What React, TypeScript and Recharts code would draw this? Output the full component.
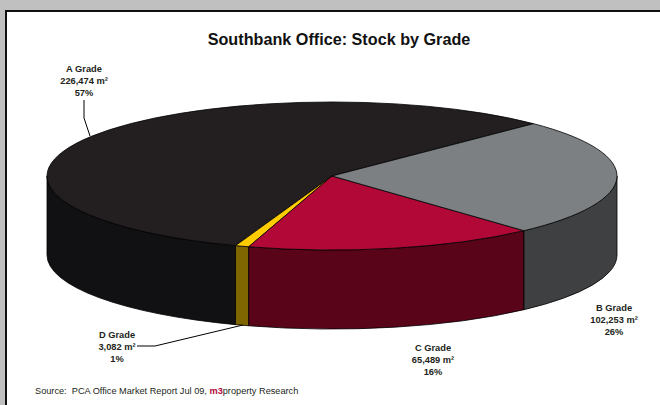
import { Pie, PieChart } from 'recharts';

const grades = ['A Grade', 'D Grade', 'C Grade', 'B Grade'];
const areas = [226474, 3082, 65489, 102253];

const topColors = ['#231f20', '#ffcc00', '#b20838', '#7c8083'];
const wallColors = ['#111012', '#7f6600', '#590419', '#3e4042'];

const data = grades.map((grade, i) => ({ grade, area: areas[i] }));

// the pie is tilted: top face is squashed to an ellipse, with a wall below it
const CX = 332;
const CY = 176;
const RX = 285;
const RY = 74;
const DEPTH = 79;
const FONT = '"Liberation Sans", Arial, sans-serif';

const labelPlaces: Record<string, { x: number; y: number; leader?: string }> = {
  'A Grade': { x: 84, y: 72, leader: '84,100 84,118 90,136' },
  'B Grade': { x: 614, y: 311 },
  'C Grade': { x: 433, y: 351 },
  'D Grade': { x: 117, y: 338, leader: '137,346 155,346 243,325' },
};

const point = (deg: number, dy = 0) => {
  const a = (deg * Math.PI) / 180;
  return `${CX + RX * Math.cos(a)} ${CY - RY * Math.sin(a) + dy}`;
};

function TiltedSector(props: any) {
  const { startAngle, endAngle, name } = props;
  const i = grades.indexOf(name);
  const large = endAngle - startAngle > 180 ? 1 : 0;
  const top = `M${CX} ${CY} L${point(startAngle)} A${RX} ${RY} 0 ${large} 0 ${point(endAngle)} Z`;

  // only the front half of the rim has a visible wall
  const from = Math.max(startAngle, 180);
  const to = Math.min(endAngle, 360);
  const wall =
    to > from
      ? `M${point(from)} A${RX} ${RY} 0 0 0 ${point(to)} L${point(to, DEPTH)} A${RX} ${RY} 0 0 1 ${point(from, DEPTH)} Z`
      : null;

  return (
    <g>
      {wall && <path d={wall} fill={wallColors[i]} stroke="#000" strokeWidth={0.8} strokeLinejoin="round" />}
      <path d={top} fill={topColors[i]} stroke="#000" strokeWidth={0.8} strokeLinejoin="round" />
    </g>
  );
}

function GradeLabel(props: any) {
  const { name, value, percent } = props;
  const place = labelPlaces[name];
  const lines = [name, `${value.toLocaleString('en-US')} m²`, `${Math.round(percent * 100)}%`];
  return (
    <g>
      {place.leader && <polyline points={place.leader} fill="none" stroke="#000" strokeWidth={1} />}
      {lines.map((line, n) => (
        <text
          key={line}
          x={place.x}
          y={place.y + n * 12}
          textAnchor="middle"
          fontFamily={FONT}
          fontSize={9.3}
          fontWeight="bold"
          fill="#231f20"
        >
          {line}
        </text>
      ))}
    </g>
  );
}

export default function App() {
  return (
    <div style={{ position: 'absolute', left: 0, top: 0, width: 660, height: 405, overflow: 'hidden', background: '#c0c0c0' }}>
      <div
        style={{
          position: 'absolute',
          left: 5,
          top: 10,
          width: 660,
          height: 400,
          background: '#fff',
          borderLeft: '2px solid #111',
          borderTop: '2px solid #111',
        }}
      />
      <div
        style={{
          position: 'absolute',
          left: 0,
          top: 29,
          width: 678,
          textAlign: 'center',
          fontFamily: FONT,
          fontSize: 16.2,
          fontWeight: 'bold',
          color: '#111',
          lineHeight: '20px',
        }}
      >
        Southbank Office: Stock by Grade
      </div>
      <div style={{ position: 'absolute', left: 0, top: 0 }}>
        <PieChart width={660} height={405} margin={{ top: 0, right: 0, bottom: 0, left: 0 }}>
          <Pie
            data={data}
            dataKey="area"
            nameKey="grade"
            cx={CX}
            cy={CY}
            innerRadius={0}
            outerRadius={RX}
            startAngle={45}
            endAngle={405}
            paddingAngle={0}
            shape={TiltedSector}
            label={GradeLabel}
            labelLine={false}
            isAnimationActive={false}
          />
        </PieChart>
      </div>
      <div
        style={{
          position: 'absolute',
          left: 35,
          top: 385,
          fontFamily: FONT,
          fontSize: 9.2,
          color: '#231f20',
          lineHeight: '12px',
          whiteSpace: 'pre',
        }}
      >
        {'Source:  PCA Office Market Report Jul 09, '}
        <span style={{ color: '#b20838', fontWeight: 'bold' }}>m3</span>
        {'property Research'}
      </div>
    </div>
  );
}
